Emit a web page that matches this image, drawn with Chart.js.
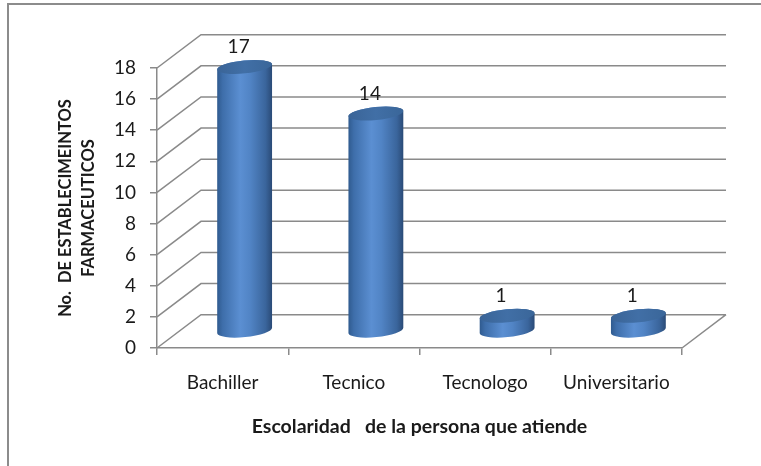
<!DOCTYPE html>
<html>
<head>
<meta charset="utf-8">
<script src="https://cdn.jsdelivr.net/npm/chart.js@4/dist/chart.umd.min.js"></script>
<style>
  html, body { margin: 0; padding: 0; background: #fff; }
  #wrap { position: relative; width: 761px; height: 466px; }
  canvas { display: block; }
</style>
</head>
<body>
<div id="wrap"><canvas id="c" width="761" height="466"></canvas></div>
<script>
// ---- data ----
const categories = ['Bachiller', 'Tecnico', 'Tecnologo', 'Universitario'];
const values = [17, 14, 1, 1];
const yTicks = [0, 2, 4, 6, 8, 10, 12, 14, 16, 18];
const yTitle = ['No.  DE ESTABLECIMEINTOS', 'FARMACEUTICOS'];
const xTitle = 'Escolaridad   de la persona que atiende';

// ---- style constants ----
const DX = 44, DY = -33.3;       // 3D depth offset
const GRID = '#8a8a8a';
const TEXT = '#1a1a1a';
const FONT = 'Lato, "Open Sans", sans-serif';

const frame3d = {
  id: 'frame3d',
  beforeDraw(chart) {
    const ctx = chart.ctx;
    ctx.save();
    ctx.fillStyle = '#fff';
    ctx.fillRect(0, 0, chart.width, chart.height);
    ctx.strokeStyle = '#8c8c8c';
    ctx.lineWidth = 2;
    ctx.beginPath();
    ctx.moveTo(8, 466); ctx.lineTo(8, 4); ctx.lineTo(761, 4);
    ctx.stroke();
    ctx.restore();
  },
  beforeDatasetsDraw(chart) {
    const ctx = chart.ctx;
    const ys = chart.scales.y;
    const {left, right, bottom} = chart.chartArea;
    ctx.save();
    ctx.strokeStyle = GRID;
    ctx.lineWidth = 1.5;
    ctx.beginPath();
    yTicks.forEach(v => {
      const y = ys.getPixelForValue(v);
      ctx.moveTo(left, y);
      ctx.lineTo(left + DX, y + DY);
      ctx.lineTo(right + DX, y + DY);
    });
    // floor right edge
    ctx.moveTo(right, bottom);
    ctx.lineTo(right + DX, bottom + DY);
    ctx.stroke();
    ctx.restore();
  },
  afterDatasetsDraw(chart) {
    const ctx = chart.ctx;
    const meta = chart.getDatasetMeta(0);
    const th = -0.1;
    meta.data.forEach((el, i) => {
      const rx = el.width / 2;
      const ry = 6.5;
      const cx = el.x + DX / 2;
      const ty = el.y + DY / 2;
      const by = el.base + DY / 2;
      const ex = rx * Math.cos(th), ey = rx * Math.sin(th);
      ctx.save();
      const g = ctx.createLinearGradient(cx - rx, 0, cx + rx, 0);
      g.addColorStop(0, '#2f5a8e');
      g.addColorStop(0.1, '#3e6eaa');
      g.addColorStop(0.42, '#5b8fd2');
      g.addColorStop(0.6, '#5184c5');
      g.addColorStop(0.88, '#3a659c');
      g.addColorStop(1, '#2a4a76');
      ctx.fillStyle = g;
      ctx.beginPath();
      ctx.moveTo(cx - ex, ty - ey);
      ctx.lineTo(cx - ex, by - ey);
      ctx.ellipse(cx, by, rx, ry, th, Math.PI, 0, true);
      ctx.lineTo(cx + ex, ty + ey);
      ctx.ellipse(cx, ty, rx, ry, th, 0, Math.PI, true);
      ctx.closePath();
      ctx.fill();
      // top cap
      const tg = ctx.createLinearGradient(cx - rx, 0, cx + rx, 0);
      tg.addColorStop(0, '#3a6497');
      tg.addColorStop(0.5, '#416fa6');
      tg.addColorStop(1, '#3a6699');
      ctx.fillStyle = tg;
      ctx.beginPath();
      ctx.ellipse(cx, ty, rx, ry, th, 0, Math.PI * 2);
      ctx.fill();
      // value label
      ctx.fillStyle = TEXT;
      ctx.font = '19px ' + FONT;
      ctx.textAlign = 'center';
      ctx.textBaseline = 'middle';
      ctx.fillText(String(values[i]), cx - 6, ty - 20);
      ctx.restore();
    });
  }
};

new Chart(document.getElementById('c'), {
  type: 'bar',
  data: {
    labels: categories,
    datasets: [{
      data: values,
      backgroundColor: 'rgba(0,0,0,0)',
      borderWidth: 0,
      categoryPercentage: 1,
      barPercentage: 0.42
    }]
  },
  options: {
    responsive: false,
    animation: false,
    events: [],
    layout: { padding: { left: 40, right: 79, top: 68, bottom: 20 } },
    plugins: { legend: { display: false }, tooltip: { enabled: false } },
    scales: {
      y: {
        min: 0, max: 18,
        afterFit(s) { s.width = 117; },
        afterBuildTicks(s) { s.ticks = yTicks.map(v => ({ value: v })); },
        ticks: { color: TEXT, font: { family: FONT, size: 19 }, padding: 14 },
        grid: { drawOnChartArea: false, drawTicks: true, tickLength: 7, color: GRID, lineWidth: 1.5 },
        border: { display: true, color: GRID, width: 1.5 },
        title: {
          display: true, text: yTitle, color: TEXT,
          font: { family: FONT, size: 16.5, weight: 'bold', lineHeight: 1.4 },
          padding: { top: 14.5, bottom: 0 }
        }
      },
      x: {
        afterFit(s) { s.height = 98; },
        ticks: { color: TEXT, font: { family: FONT, size: 19 }, padding: 16 },
        grid: { drawOnChartArea: false, drawTicks: true, tickLength: 7, color: GRID, lineWidth: 1.5, offset: true },
        border: { display: true, color: GRID, width: 1.5 },
        title: {
          display: true, text: xTitle, color: TEXT,
          font: { family: FONT, size: 19.5, weight: 'bold', lineHeight: 1.2 },
          padding: { top: 0, bottom: 7.3 }
        }
      }
    }
  },
  plugins: [frame3d]
});
</script>
</body>
</html>
